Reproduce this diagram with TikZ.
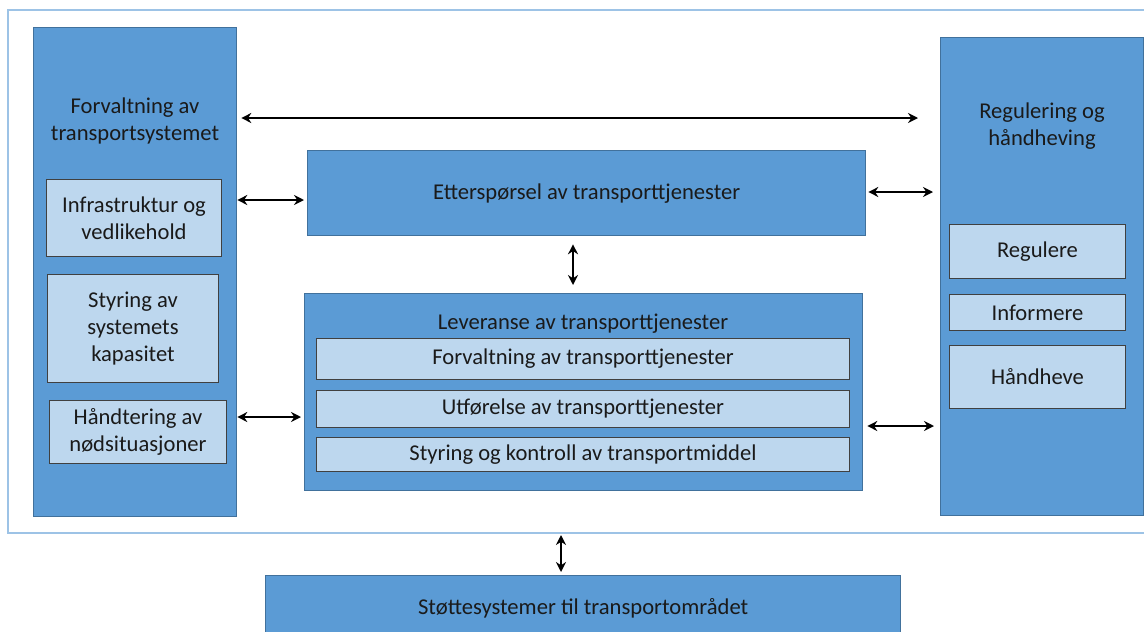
\documentclass[tikz,border=0pt]{standalone}
\usepackage{fontspec}
\setmainfont{Carlito}
\usetikzlibrary{arrows.meta}
\definecolor{mainblue}{HTML}{5B9BD5}
\definecolor{mainedge}{HTML}{41719C}
\definecolor{subblue}{HTML}{BDD7EE}
\definecolor{subedge}{HTML}{404040}
\definecolor{framec}{HTML}{9DC3E6}
\definecolor{txt}{HTML}{1A1A1A}
\begin{document}
\begin{tikzpicture}[x=1pt,y=-1pt,
  font=\fontsize{22.6}{27.2}\selectfont, text=txt,
  big/.style={draw=mainedge, fill=mainblue, line width=1.3pt, inner sep=0pt, anchor=north west, align=center},
  sub/.style={draw=subedge, fill=subblue, line width=1pt, inner sep=0pt, anchor=north west, align=center},
  lbl/.style={align=center, inner sep=0pt},
  arr/.style={{Stealth[length=10pt,width=10pt]}-{Stealth[length=10pt,width=10pt]}, line width=2.8pt, black},
  frm/.style={draw=framec, line width=2pt, inner sep=0pt, anchor=north west}]
\clip (0,0) rectangle (1144,632);
\node[frm, minimum width=1150pt, minimum height=523pt] (F) at (7,9) {};
% left column
\node[big, minimum width=203pt, minimum height=489pt] (L) at (33,27) {};
\node[lbl] (Lt) at (135,121) {Forvaltning av\\transportsystemet};
\node[sub, minimum width=175pt, minimum height=77pt] (L1) at (46,179) {Infrastruktur og\\vedlikehold};
\node[sub, minimum width=171pt, minimum height=108pt] (L2) at (47,274) {Styring av\\systemets\\kapasitet};
\node[sub, minimum width=177pt, minimum height=63pt] (L3) at (49,400) {Håndtering av\\nødsituasjoner};
% right column
\node[big, minimum width=203pt, minimum height=478pt] (R) at (940,37) {};
\node[lbl] (Rt) at (1042,126) {Regulering og\\håndheving};
\node[sub, minimum width=176pt, minimum height=54pt] (R1) at (949,224) {Regulere};
\node[sub, minimum width=176pt, minimum height=36pt] (R2) at (949,294) {Informere};
\node[sub, minimum width=176pt, minimum height=63pt] (R3) at (949,345) {Håndheve};
% middle
\node[big, minimum width=558pt, minimum height=85pt] (E) at (307,150) {Etterspørsel av transporttjenester};
\node[big, minimum width=558pt, minimum height=197pt] (V) at (304,293) {};
\node[lbl] (Vt) at (583,324) {Leveranse av transporttjenester};
\node[sub, minimum width=533pt, minimum height=41pt] (V1) at (316,338) {Forvaltning av transporttjenester};
\node[sub, minimum width=533pt, minimum height=37pt] (V2) at (316,390) {Utførelse av transporttjenester};
\node[sub, minimum width=533pt, minimum height=34pt] (V3) at (316,437) {Styring og kontroll av transportmiddel};
% bottom
\node[big, minimum width=635pt, minimum height=65pt] (S) at (265,575) {Støttesystemer til transportområdet};
% helper coordinates
\coordinate (ya) at (0,118);
\coordinate (yb) at (0,200);
\coordinate (yc) at (0,192);
\coordinate (yd) at (0,417);
\coordinate (ye) at (0,426);
\coordinate (xa) at (573,0);
\coordinate (xb) at (561,0);
% connectors
\draw[arr] ([xshift=4pt]L.east |- ya) -- ([xshift=-22pt]R.west |- ya);
\draw[arr] (L.east |- yb) -- ([xshift=-3pt]E.west |- yb);
\draw[arr] ([xshift=2pt]E.east |- yc) -- ([xshift=-7pt]R.west |- yc);
\draw[arr] ([yshift=-8pt]E.south -| xa) -- ([yshift=8pt]V.north -| xa);
\draw[arr] (L.east |- yd) -- ([xshift=-3pt]V.west |- yd);
\draw[arr] ([xshift=4pt]V.east |- ye) -- ([xshift=-6pt]R.west |- ye);
\draw[arr] ([yshift=-1pt]F.south -| xb) -- ([yshift=3pt]S.north -| xb);
\end{tikzpicture}
\end{document}
